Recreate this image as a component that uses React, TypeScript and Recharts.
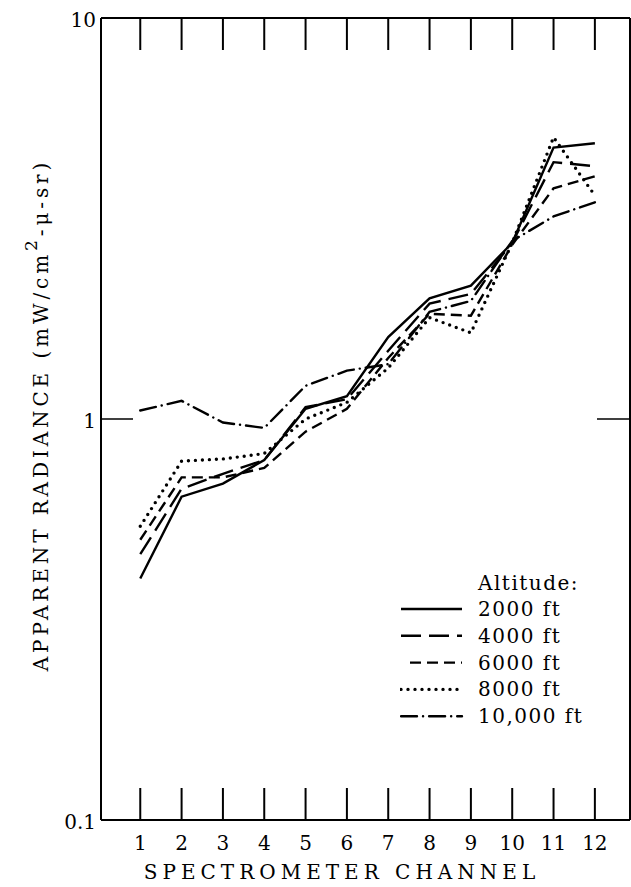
import { LineChart, Line, XAxis, YAxis, Legend } from 'recharts';

// Canal del espectrómetro y radiancia aparente por altitud
const channels = [1, 2, 3, 4, 5, 6, 7, 8, 9, 10, 11, 12];
const alt2000 = [0.4, 0.64, 0.69, 0.79, 1.06, 1.14, 1.6, 2.0, 2.15, 2.75, 4.75, 4.87];
const alt4000 = [0.46, 0.67, 0.73, 0.79, 1.07, 1.12, 1.48, 1.94, 2.05, 2.75, 4.37, 4.27];
const alt6000 = [0.5, 0.715, 0.715, 0.755, 0.93, 1.06, 1.42, 1.83, 1.81, 2.72, 3.76, 4.03];
const alt8000 = [0.54, 0.785, 0.795, 0.82, 1.0, 1.1, 1.34, 1.79, 1.64, 2.75, 5.04, 3.61];
const alt10000 = [1.05, 1.11, 0.98, 0.95, 1.21, 1.32, 1.37, 1.85, 1.97, 2.78, 3.2, 3.47];

const yTicks = [0.1, 1, 10];

const data = channels.map((ch, i) => ({
  ch,
  a2000: alt2000[i],
  a4000: alt4000[i],
  a6000: alt6000[i],
  a8000: alt8000[i],
  a10000: alt10000[i],
}));

const SERIES = [
  { key: 'a2000', name: '2000 ft', dash: undefined, width: 2.4, cap: 'butt' },
  { key: 'a4000', name: '4000 ft', dash: '20 8', width: 2.4, cap: 'butt' },
  { key: 'a6000', name: '6000 ft', dash: '11 6', width: 2.4, cap: 'butt' },
  { key: 'a8000', name: '8000 ft', dash: '0 7', width: 3.4, cap: 'round' },
  { key: 'a10000', name: '10,000 ft', dash: '16 6 0.1 6', width: 2.4, cap: 'round' },
];

const FONT = '"DejaVu Serif", serif';
const PLOT_BOTTOM = 820;
const PLOT_TOP = 18;
const PLOT_LEFT = 101;
const PLOT_RIGHT = 630;

const BottomTick = ({ x, payload }: any) => (
  <g>
    <line x1={x} x2={x} y1={PLOT_BOTTOM} y2={PLOT_BOTTOM - 32} stroke="#000" strokeWidth={2} />
    <text x={x} y={PLOT_BOTTOM + 30} textAnchor="middle" fontFamily={FONT} fontSize={20} fill="#000">
      {payload.value}
    </text>
  </g>
);

const TopTick = ({ x }: any) => (
  <line x1={x} x2={x} y1={PLOT_TOP} y2={PLOT_TOP + 32} stroke="#000" strokeWidth={2} />
);

const LeftTick = ({ y, payload }: any) => (
  <g>
    {payload.value === 1 && (
      <line x1={PLOT_LEFT} x2={PLOT_LEFT + 32} y1={y} y2={y} stroke="#000" strokeWidth={1.5} />
    )}
    <text
      x={PLOT_LEFT - 5}
      y={y + 2}
      textAnchor="end"
      dominantBaseline="central"
      fontFamily={FONT}
      fontSize={20}
      fill="#000"
    >
      {payload.value}
    </text>
  </g>
);

const RightTick = ({ y, payload }: any) =>
  payload.value === 1 ? (
    <line x1={PLOT_RIGHT} x2={PLOT_RIGHT - 33} y1={y} y2={y} stroke="#000" strokeWidth={1.5} />
  ) : (
    <g />
  );

const XTitle = () => (
  <text x={342} y={879} textAnchor="middle" fontFamily={FONT} fontSize={20} letterSpacing={5} fill="#000">
    SPECTROMETER CHANNEL
  </text>
);

const YTitle = () => (
  <text
    transform="translate(48, 415) rotate(-90)"
    textAnchor="middle"
    fontFamily={FONT}
    fontSize={20}
    letterSpacing={3.9}
    fill="#000"
  >
    APPARENT RADIANCE (mW/cm
    <tspan fontSize={17} dy={-11}>2</tspan>
    <tspan dy={11}>-μ-sr)</tspan>
  </text>
);

const renderLegend = () => (
  <svg width={231} height={170}>
    <text x={78} y={25} fontFamily={FONT} fontSize={20} letterSpacing={1.5} fill="#000">
      Altitude:
    </text>
    {SERIES.map((s, i) => {
      const cy = 44 + i * 26.8;
      return (
        <g key={s.key}>
          <line
            x1={s.key === 'a6000' ? 10 : 1}
            x2={62}
            y1={cy}
            y2={cy}
            stroke="#000"
            strokeWidth={s.width}
            strokeDasharray={s.dash}
            strokeLinecap={s.cap as any}
          />
          <text x={78} y={cy} dominantBaseline="central" fontFamily={FONT} fontSize={20} letterSpacing={1.5} fill="#000">
            {s.name}
          </text>
        </g>
      );
    })}
  </svg>
);

const App = () => (
  <div style={{ position: 'absolute', left: 0, top: 0, background: '#fff' }}>
    <LineChart width={631} height={887} data={data} margin={{ top: 8, right: 0, bottom: 27, left: 61 }}>
      <XAxis
        dataKey="ch"
        type="number"
        domain={[0.05, 12.85]}
        ticks={channels}
        height={40}
        tickLine={false}
        tick={<BottomTick />}
        axisLine={{ stroke: '#000', strokeWidth: 2 }}
        label={{ content: XTitle }}
      />
      <XAxis
        xAxisId="top"
        orientation="top"
        dataKey="ch"
        type="number"
        domain={[0.05, 12.85]}
        ticks={channels}
        height={10}
        tickLine={false}
        tick={<TopTick />}
        axisLine={{ stroke: '#000', strokeWidth: 2 }}
      />
      <YAxis
        scale="log"
        type="number"
        domain={[0.1, 10]}
        ticks={yTicks}
        allowDataOverflow
        width={40}
        tickLine={false}
        tick={<LeftTick />}
        axisLine={{ stroke: '#000', strokeWidth: 2 }}
        label={{ content: YTitle }}
      />
      <YAxis
        yAxisId="right"
        orientation="right"
        scale="log"
        type="number"
        domain={[0.1, 10]}
        ticks={yTicks}
        allowDataOverflow
        width={1}
        tickLine={false}
        tick={<RightTick />}
        axisLine={{ stroke: '#000', strokeWidth: 2 }}
      />
      {SERIES.map((s) => (
        <Line
          key={s.key}
          type="linear"
          dataKey={s.key}
          name={s.name}
          stroke="#000"
          strokeWidth={s.width}
          strokeDasharray={s.dash}
          strokeLinecap={s.cap as any}
          dot={false}
          isAnimationActive={false}
        />
      ))}
      <Legend
        layout="vertical"
        align="center"
        verticalAlign="middle"
        content={renderLegend}
        wrapperStyle={{ position: 'absolute', left: 400, top: 565, width: 231, height: 170 }}
      />
    </LineChart>
  </div>
);

export default App;
